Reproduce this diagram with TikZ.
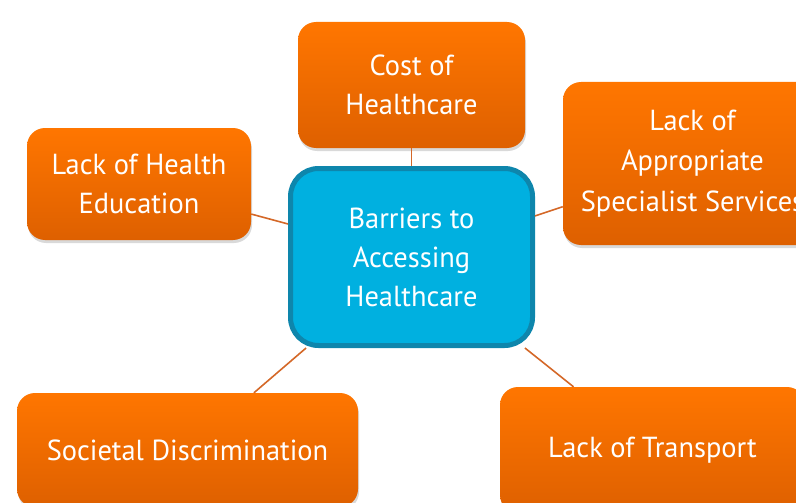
\documentclass[tikz,border=0pt]{standalone}
\usepackage{fontspec}
\setmainfont[FakeStretch=0.98]{PT Sans}
\usetikzlibrary{shadows}
\definecolor{orangetop}{RGB}{255,118,0}
\definecolor{orangebot}{RGB}{222,96,0}
\definecolor{hubfill}{RGB}{0,176,224}
\definecolor{hubedge}{RGB}{14,134,172}
\definecolor{linkcol}{RGB}{212,104,40}
\tikzset{
  barrier/.style={rectangle, rounded corners=18pt, top color=orangetop, bottom color=orangebot,
    draw=none, text=white, align=center, inner sep=0pt,
    font=\fontsize{29}{39}\selectfont,
    drop shadow={opacity=0.3, shadow xshift=1pt, shadow yshift=-3pt}},
  hub/.style={rectangle, rounded corners=28pt, fill=hubfill, draw=hubedge, line width=5pt,
    text=white, align=center, inner sep=0pt, font=\fontsize{29}{39}\selectfont},
  link/.style={draw=linkcol, line width=1.6pt}
}
\begin{document}
\begin{tikzpicture}[x=1pt, y=-1pt]
\useasboundingbox (0,0) rectangle (796,503);
\clip (0,0) rectangle (796,503);
% central topic
\node[hub, minimum width=242pt, minimum height=177pt] (hub) at (411.5,257)
  {Barriers to\\Accessing\\Healthcare};
% surrounding barriers
\node[barrier, minimum width=227pt, minimum height=126pt] (cost) at (411.5,85)
  {Cost of\\Healthcare};
\node[barrier, minimum width=224pt, minimum height=112pt] (edu) at (139,184)
  {Lack of Health\\Education};
\node[barrier, minimum width=259pt, minimum height=163pt,
  font=\fontsize{29}{40.5}\selectfont] (spec) at (692.5,163.5)
  {Lack of\\Appropriate\\Specialist Services};
\node[barrier, minimum width=341pt, minimum height=114pt] (disc) at (187.5,450)
  {Societal Discrimination};
\node[barrier, minimum width=305pt, minimum height=126pt] (trans) at (652.5,450)
  {Lack of Transport};
% connectors
\draw[link] (cost) -- (hub);
\draw[link] (edu) -- (hub);
\draw[link] (spec) -- (hub);
\draw[link] (disc) -- (hub);
\draw[link] (trans) -- (hub);
\end{tikzpicture}
\end{document}
